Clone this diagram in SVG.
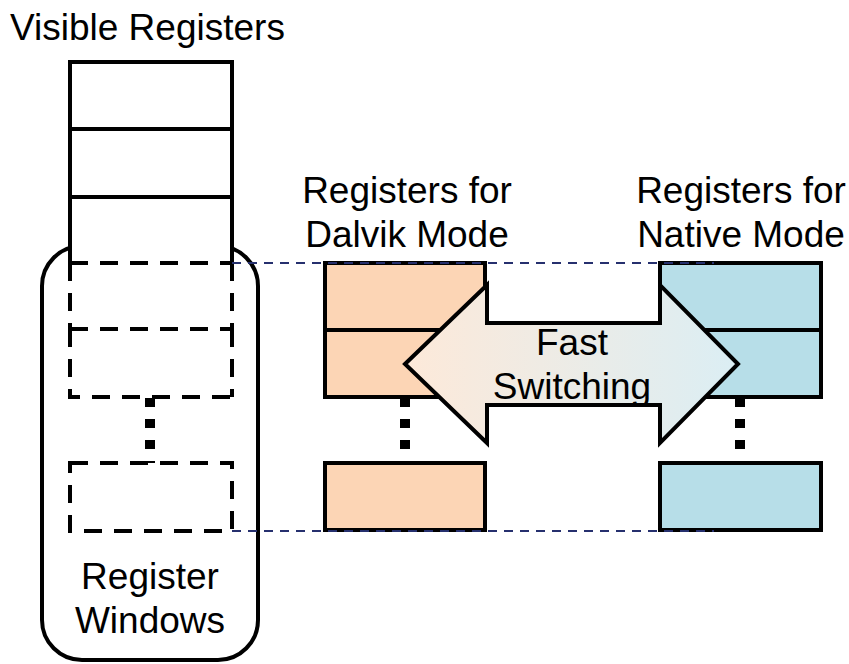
<svg xmlns="http://www.w3.org/2000/svg" width="849" height="664" viewBox="0 0 849 664">
  <style>
    text { font-family: "Liberation Sans", Arial, Helvetica, sans-serif; font-size: 37px; fill: #000; }
    .mid { text-anchor: middle; }
    .solid { stroke: #000; stroke-width: 4; fill: none; }
    .win { stroke: #000; stroke-width: 4; fill: none; stroke-dasharray: 18 12; }
    .dots { stroke: #000; stroke-width: 10; fill: none; stroke-dasharray: 9 12; }
    .guide { stroke: #26306e; stroke-width: 2; fill: none; stroke-dasharray: 9 7; }
    .dalvik { fill: #fcd5b5; stroke: #000; stroke-width: 4; }
    .native { fill: #b7dee8; stroke: #000; stroke-width: 4; }
  </style>
  <defs>
    <linearGradient id="switchFill" gradientUnits="userSpaceOnUse" x1="405" y1="0" x2="738" y2="0">
      <stop offset="0" stop-color="#fde9d9"/>
      <stop offset="1" stop-color="#dbeef4"/>
    </linearGradient>
  </defs>

  <rect width="849" height="664" fill="#fff"/>

  <!-- outer rounded frame of the register file -->
  <g id="register-file-frame">
    <rect x="42" y="246" width="216" height="414" rx="40" ry="40" class="solid" fill="#fff"/>
  </g>

  <!-- visible register stack -->
  <g id="visible-registers">
    <rect x="70" y="62" width="162" height="201" fill="#fff"/>
    <path d="M70,263 V62 H232 V263 M70,129 H232 M70,197 H232" class="solid"/>
    <text x="10" y="40">Visible Registers</text>
  </g>

  <!-- register windows -->
  <g id="register-windows">
    <!-- first two windows share their middle edge -->
    <path d="M70,263 H232 M70,263 V329 M232,263 V329 M70,329 H232" class="win"/>
    <path d="M70,329 V397 H232 M232,329 V397" class="win"/>
    <line x1="150" y1="398" x2="150" y2="463" class="dots"/>
    <rect x="70" y="463" width="162" height="68" class="win"/>
    <text x="150" y="589" class="mid">Register</text>
    <text x="150" y="633" class="mid">Windows</text>
  </g>

  <!-- dalvik mode register bank -->
  <g id="dalvik-registers">
    <text x="407" y="203" class="mid">Registers for</text>
    <text x="407" y="247" class="mid">Dalvik Mode</text>
    <rect x="325" y="263" width="160" height="134" class="dalvik"/>
    <line x1="325" y1="330" x2="485" y2="330" class="solid"/>
    <line x1="405" y1="398" x2="405" y2="463" class="dots"/>
    <rect x="325" y="463" width="160" height="67" class="dalvik"/>
  </g>

  <!-- native mode register bank -->
  <g id="native-registers">
    <text x="741" y="203" class="mid">Registers for</text>
    <text x="741" y="247" class="mid">Native Mode</text>
    <rect x="660" y="263" width="161" height="134" class="native"/>
    <line x1="660" y1="330" x2="821" y2="330" class="solid"/>
    <line x1="740" y1="398" x2="740" y2="463" class="dots"/>
    <rect x="660" y="463" width="161" height="67" class="native"/>
  </g>

  <!-- connectors: window mapping guides and the switching arrow -->
  <g id="connectors">
    <path d="M405,364 L487,285 V323 H660 V285 L738,364 L660,443 V405 H487 V443 Z" fill="url(#switchFill)" stroke="#000" stroke-width="4" stroke-linejoin="miter"/>
    <line x1="232" y1="263" x2="714" y2="263" class="guide"/>
    <line x1="232" y1="531" x2="714" y2="531" class="guide"/>
  </g>

  <g id="switch-label">
    <text x="572" y="355" class="mid">Fast</text>
    <text x="572" y="399" class="mid">Switching</text>
  </g>
</svg>
